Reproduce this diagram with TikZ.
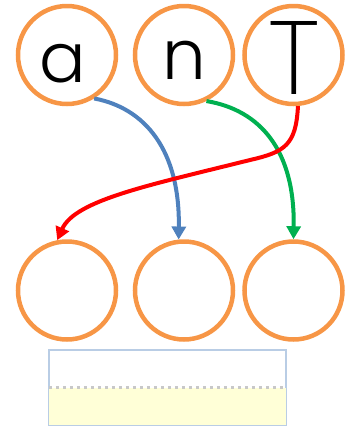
\documentclass[tikz,border=0pt]{standalone}
\usepackage{fontspec}
\setmainfont{Poppins}[UprightFont=* Light]
\newfontfamily\finita{Poppins}[UprightFont=* ExtraLight]
\usetikzlibrary{arrows.meta}
\definecolor{naranja}{HTML}{F79646}
\definecolor{azul}{HTML}{4F81BD}
\definecolor{verde}{HTML}{00B050}
\definecolor{rojo}{HTML}{FF0000}
\definecolor{borde}{HTML}{B9CDE5}
\definecolor{crema}{HTML}{FFFFD7}
\definecolor{puntos}{HTML}{C8C8C8}
\tikzstyle{bola} = [circle, draw=naranja, line width=4.5pt, minimum size=98pt, inner sep=0pt]
\tikzstyle{letra} = [anchor=base, inner sep=0pt]
\tikzstyle{flecha} = [line width=4pt, -{Triangle[length=13pt,width=14pt]}]

\begin{document}
\begin{tikzpicture}[x=1pt, y=-1pt]
\useasboundingbox (0,0) rectangle (358,432);

\node (a) [bola] at (67,55) {};
\node (n) [bola] at (184,55) {};
\node (t) [bola] at (293.5,55) {};
\node (la) [letra] at (63,82) {\fontsize{69}{69}\selectfont a};
\node (ln) [letra] at (184,79) {\fontsize{69}{69}\selectfont n};
\node (lt) [letra] at (294.5,94) {\finita\fontsize{104}{104}\selectfont T};

\node (b1) [bola] at (67,290.5) {};
\node (b2) [bola] at (184,290.5) {};
\node (b3) [bola] at (293.5,290.5) {};

\node (caja) [rectangle, draw=borde, line width=2.5pt, minimum width=237pt, minimum height=75pt] at (167.5,387.5) {};
\fill [crema] ([xshift=1pt]caja.west) rectangle ([xshift=-1pt, yshift=1pt]caja.south east);
\draw [puntos, line width=3pt, dash pattern=on 3.5pt off 3.5pt] ([xshift=1pt]caja.west) -- ([xshift=-1pt]caja.east);

%% conectores de arriba hacia abajo
\draw [flecha, azul] (a.-58) .. controls (145,108) and (180,150) .. (b2.96);
\draw [flecha, verde] (n.-64) .. controls (260,110) and (295,150) .. (b3.north);
\draw [flecha, rojo] (t.-85) .. controls (296,145) and (285,152) .. (250,160) .. controls (150,185) and (75,200) .. (b1.101);

\end{tikzpicture}
\end{document}
